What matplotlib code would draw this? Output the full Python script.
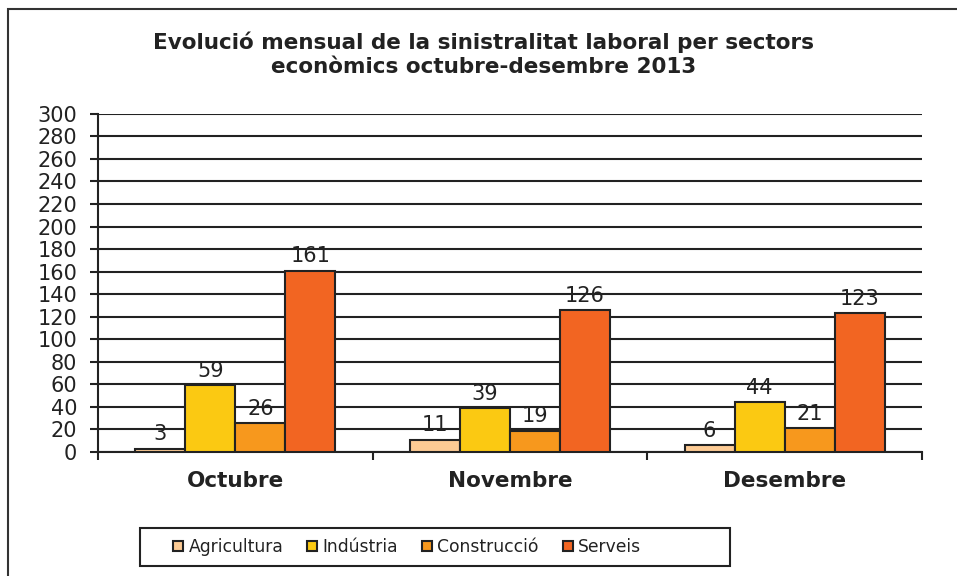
import numpy as np
import matplotlib.pyplot as plt
from matplotlib.patches import Rectangle

# Data
months = ['Octubre', 'Novembre', 'Desembre']
sectors = ['Agricultura', 'Indústria', 'Construcció', 'Serveis']
agricultura = [3, 11, 6]
industria = [59, 39, 44]
construccio = [26, 19, 21]
serveis = [161, 126, 123]
colors = ['#FDCB94', '#FBC912', '#F7981D', '#F26522']

series = [agricultura, industria, construccio, serveis]

plt.rcParams['font.family'] = 'DejaVu Sans'
fig = plt.figure(figsize=(9.57, 5.76), dpi=100)
ax = fig.add_axes([0.1024, 0.2153, 0.861, 0.587])

x = np.arange(len(months))
w = 0.182
for i, (vals, col, name) in enumerate(zip(series, colors, sectors)):
    pos = x + (i - 1.5) * w
    bars = ax.bar(pos, vals, w, color=col, edgecolor='#222222', linewidth=1.5,
                  label=name, zorder=3)
    for b, v in zip(bars, vals):
        ax.annotate(str(v), (b.get_x() + b.get_width() / 2, v),
                    xytext=(0, 3), textcoords='offset points',
                    ha='center', va='bottom', fontsize=15, color='#222222', zorder=4)

ax.set_xlim(-0.5, 2.5)
ax.set_ylim(0, 300)
ax.set_yticks(range(0, 301, 20))
ax.yaxis.grid(True, color='#222222', linewidth=1.5, zorder=0)
ax.tick_params(axis='y', labelsize=15, length=6, width=1.5, pad=9,
               color='#222222', labelcolor='#222222')

ax.set_xticks([-0.5, 0.5, 1.5, 2.5])
ax.set_xticklabels([])
ax.set_xticks(x, minor=True)
ax.set_xticklabels(months, minor=True, fontsize=15.5, fontweight='bold', color='#222222')
ax.tick_params(axis='x', which='major', length=6, width=1.5, color='#222222')
ax.tick_params(axis='x', which='minor', length=0, pad=14)

for s in ['top', 'right']:
    ax.spines[s].set_visible(False)
for s in ['left', 'bottom']:
    ax.spines[s].set_linewidth(1.5)
    ax.spines[s].set_color('#222222')

fig.text(0.505, 0.905, 'Evolució mensual de la sinistralitat laboral per sectors\neconòmics octubre-desembre 2013',
         ha='center', va='center', fontsize=15.5, fontweight='bold', color='#222222',
         linespacing=1.25)

leg = ax.legend(loc='center left', bbox_to_anchor=(173 / 957, 1 - 547 / 576),
                bbox_transform=fig.transFigure, ncol=4, fontsize=12.3, frameon=False,
                handlelength=0.6, handleheight=0.6, handletextpad=0.3,
                columnspacing=1.4, borderpad=0, borderaxespad=0)
for t in leg.get_texts():
    t.set_color('#222222')

# legend box
fig.patches.append(Rectangle((140 / 957, 1 - 566 / 576), 590 / 957, 38 / 576,
                             transform=fig.transFigure, fill=False,
                             edgecolor='#222222', linewidth=1.5))

# outer border (right and bottom edges fall outside the picture)
fig.patches.append(Rectangle((8 / 957, -0.1), 1.2, 1.1 - 9 / 576, transform=fig.transFigure,
                             fill=False, edgecolor='#333333', linewidth=1.5))

fig.savefig('out.png', dpi=100)
